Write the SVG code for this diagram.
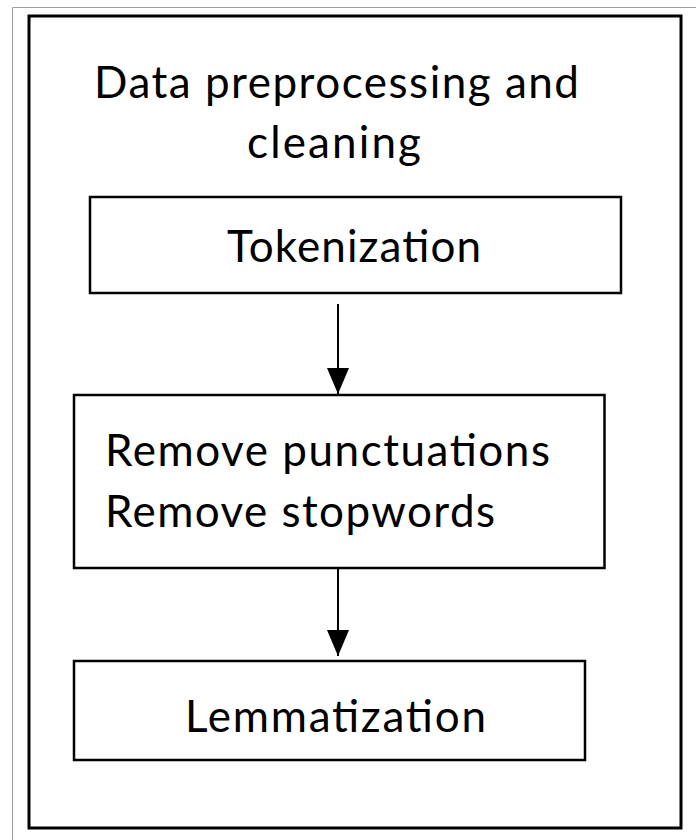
<svg xmlns="http://www.w3.org/2000/svg" width="696" height="840" viewBox="0 0 696 840">
<defs>
<style>
.frame{fill:none;stroke:#000;stroke-width:3}
.box{fill:#fff;stroke:#000;stroke-width:2.5}
.t{font-family:Lato,"Open Sans","Liberation Sans",sans-serif;font-size:44px;fill:#000}
.conn{stroke:#000;stroke-width:2;fill:none}
</style>
<marker id="arr" viewBox="0 0 26 22" refX="26" refY="11" markerWidth="26" markerHeight="22" markerUnits="userSpaceOnUse" orient="auto">
<path d="M0,0 L26,11 L0,22 Z" fill="#000"/>
</marker>
</defs>
<rect width="696" height="840" fill="#fff"/>
<path d="M12.5,840 V7.5 H696" fill="none" stroke="#a0a0a0" stroke-width="1"/>
<g id="container">
<rect class="frame" x="29" y="16" width="652" height="812"/>
<text class="t" x="94" y="98" textLength="485">Data preprocessing and</text>
<text class="t" x="247" y="158" textLength="174">cleaning</text>
</g>
<g id="tokenization">
<rect class="box" x="90" y="197" width="531" height="96"/>
<text class="t" x="227" y="262" textLength="254">Tokenization</text>
</g>
<g id="remove">
<rect class="box" x="74" y="395" width="530.5" height="173"/>
<text class="t" x="105" y="466" textLength="445">Remove punctuations</text>
<text class="t" x="105" y="527" textLength="390">Remove stopwords</text>
</g>
<g id="lemmatization">
<rect class="box" x="74" y="661" width="511" height="99"/>
<text class="t" x="185" y="732" textLength="301">Lemmatization</text>
</g>
<g id="connectors">
<line class="conn" x1="338" y1="304" x2="338" y2="394" marker-end="url(#arr)"/>
<line class="conn" x1="338" y1="568" x2="338" y2="656" marker-end="url(#arr)"/>
</g>
</svg>
